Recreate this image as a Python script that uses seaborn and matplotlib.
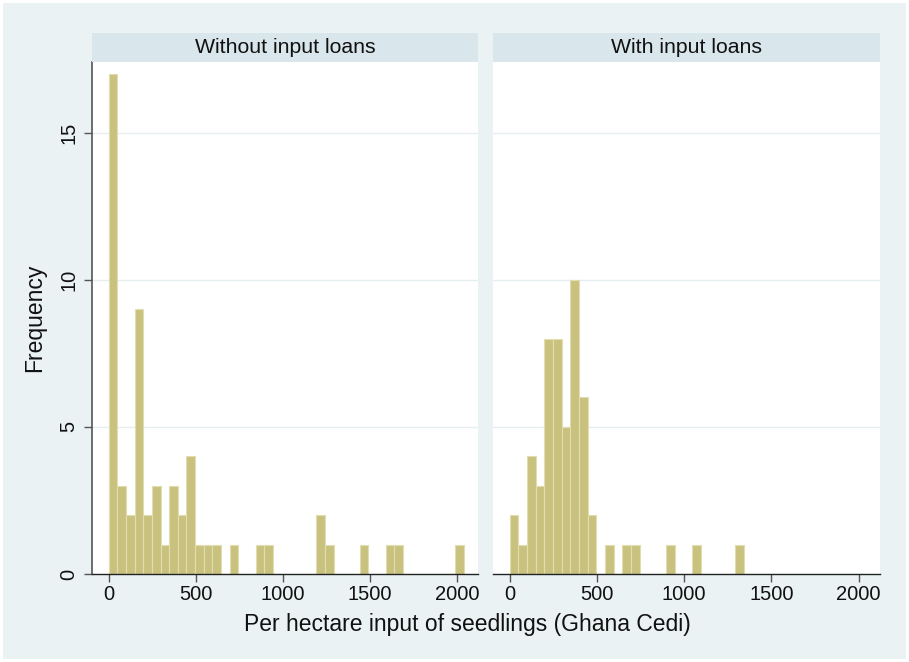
import numpy as np
import pandas as pd
import seaborn as sns
import matplotlib
matplotlib.use("Agg")
import matplotlib.pyplot as plt
from matplotlib.patches import Rectangle

# ---- data (counts per bin, bin width ~49.75 starting at 0) ----
panels = ["Without input loans", "With input loans"]
bin_width = 49.75
counts_without = [17, 3, 2, 9, 2, 3, 1, 3, 2, 4, 1, 1, 1, 0, 1, 0, 0, 1, 1, 0,
                  0, 0, 0, 0, 2, 1, 0, 0, 0, 1, 0, 0, 1, 1, 0, 0, 0, 0, 0, 0, 1]
counts_with = [2, 1, 4, 3, 8, 8, 5, 10, 6, 2, 0, 1, 0, 1, 1, 0, 0, 0, 1, 0,
               0, 1, 0, 0, 0, 0, 1]
x_ticks = [0, 500, 1000, 1500, 2000]
y_ticks = [0, 5, 10, 15]

rows = []
for name, counts in zip(panels, [counts_without, counts_with]):
    for i, c in enumerate(counts):
        if c > 0:
            rows.append({"value": (i + 0.5) * bin_width, "count": c, "group": name})
df = pd.DataFrame(rows)

sns.set_theme(style="white")
plt.rcParams["font.family"] = ["Liberation Sans", "DejaVu Sans"]

BG = "#EAF2F3"
STRIP = "#D9E6EB"
BAR = "#C9C27F"
BAR_EDGE = "#E2DDB0"
AXC = "#555555"
TICK_FS = 14.5
LAB_FS = 16.5
STRIP_FS = 15.3

g = sns.FacetGrid(df, col="group", col_order=panels, sharey=True, sharex=True,
                  height=5, aspect=0.9)
g.map_dataframe(sns.histplot, x="value", weights="count", binwidth=bin_width,
                binrange=(0, 41 * bin_width),
                color=BAR, edgecolor=BAR_EDGE, linewidth=0.8, alpha=1)
fig = g.figure
fig.set_size_inches(9.09, 6.62)
fig.set_dpi(100)
fig.patch.set_facecolor(BG)
fig.patch.set_edgecolor("white")
fig.patch.set_linewidth(3)

W, H = 909, 662
ax_pos = [(92, 478), (493, 880)]
top, bottom = 62, 574
strip_h = 29
for ax, (x0, x1), name in zip(g.axes.flat, ax_pos, panels):
    ax.set_position([x0 / W, 1 - bottom / H, (x1 - x0) / W, (bottom - top) / H])
    ax.set_facecolor("white")
    ax.set_xlim(-95, 2122)
    ax.set_ylim(0, 17.4)
    ax.set_title("")
    ax.set_xticks(x_ticks)
    ax.set_yticks(y_ticks)
    ax.set_xticklabels([str(t) for t in x_ticks], fontsize=TICK_FS, color="#111111")
    ax.grid(False)
    for yv in y_ticks[1:]:
        ax.axhline(yv, color="#E6EEF0", linewidth=1.0, zorder=0)
    for s in ["top", "right"]:
        ax.spines[s].set_visible(False)
    ax.spines["bottom"].set_color("#222222")
    ax.spines["bottom"].set_linewidth(1.0)
    ax.tick_params(axis="x", direction="out", length=6, width=1, color=AXC, pad=2, bottom=True)
    ax.set_xlabel("")
    ax.set_ylabel("")
    hfrac = strip_h / (bottom - top)
    ax.add_patch(Rectangle((0, 1), 1, hfrac, transform=ax.transAxes,
                           facecolor=STRIP, edgecolor="none", clip_on=False, zorder=5))
    ax.text(0.5, 1 + hfrac / 2, name, transform=ax.transAxes, ha="center",
            va="center", fontsize=STRIP_FS, color="#111111", zorder=6)

axL, axR = g.axes.flat
axL.spines["left"].set_color(AXC)
axL.spines["left"].set_linewidth(1.2)
axL.tick_params(axis="y", direction="out", length=6, width=1, color=AXC, pad=4, left=True)
axL.set_yticklabels([str(t) for t in y_ticks], rotation=90, va="center",
                    fontsize=TICK_FS, color="#111111")
axR.spines["left"].set_visible(False)
axR.tick_params(axis="y", left=False, labelleft=False)

fig.text(35 / W, 1 - 318 / H, "Frequency", rotation=90, ha="center", va="center",
         fontsize=LAB_FS, color="#111111")
fig.text(467 / W, 1 - 625 / H, "Per hectare input of seedlings (Ghana Cedi)",
         ha="center", va="center", fontsize=LAB_FS, color="#111111")

fig.savefig("out.png", dpi=100, facecolor=BG, edgecolor="white")
